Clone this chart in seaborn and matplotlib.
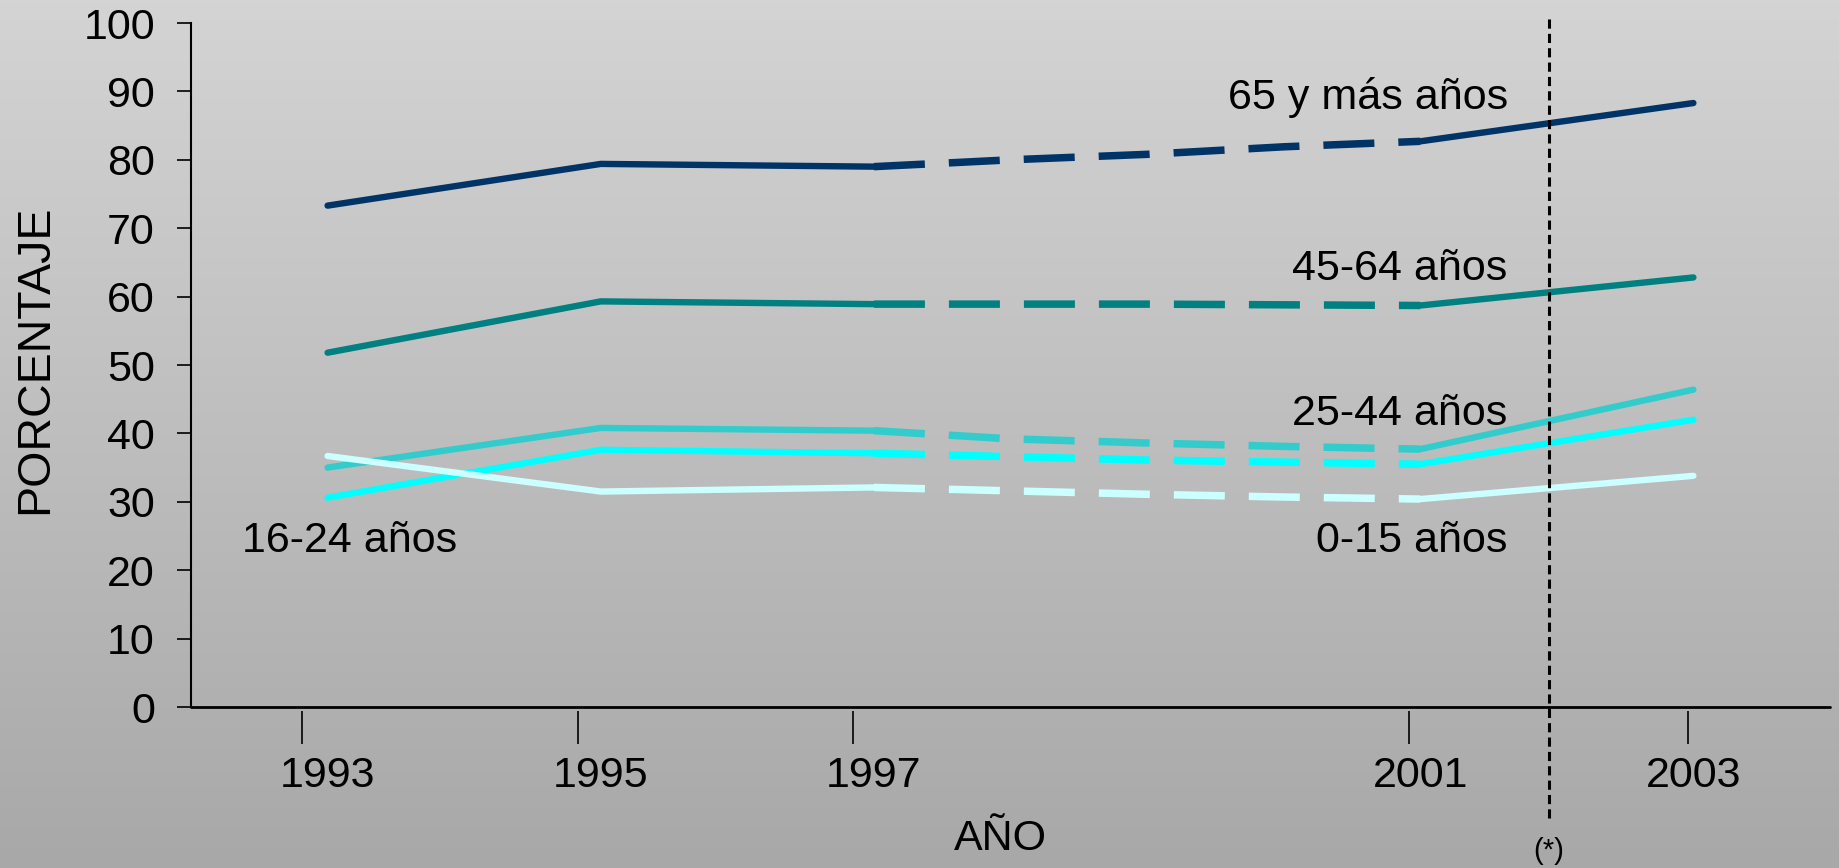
import matplotlib
matplotlib.use('Agg')
import matplotlib.pyplot as plt
from matplotlib.colors import LinearSegmentedColormap
import numpy as np
import pandas as pd
import seaborn as sns

sns.set_style('white')
plt.rcParams['font.family'] = ['Liberation Sans', 'DejaVu Sans']
plt.rcParams['text.color'] = 'black'
plt.rcParams['axes.labelcolor'] = 'black'
plt.rcParams['xtick.color'] = 'black'
plt.rcParams['ytick.color'] = 'black'

# datos
years = [1993, 1995, 1997, 2001, 2003]
dash_years = [1997, 1998, 1999, 2000, 2001]
groups = ['65 y más años', '45-64 años', '25-44 años', '16-24 años', '0-15 años']
colors = ['#003366', '#008080', '#33CCCC', '#00FFFF', '#CCFFFF']

v65 = [73.3, 79.4, 79.0, 82.7, 88.3]
v45 = [51.8, 59.3, 58.9, 58.7, 62.8]
v25 = [35.0, 40.8, 40.4, 37.7, 46.4]
v16 = [30.6, 37.6, 37.1, 35.5, 42.0]
v00 = [36.7, 31.5, 32.1, 30.4, 33.8]

d65 = [79.0, 80.0, 80.8, 81.9, 82.7]
d45 = [58.9, 58.9, 58.9, 58.8, 58.7]
d25 = [40.4, 39.2, 38.6, 38.1, 37.7]
d16 = [37.1, 36.6, 36.1, 35.8, 35.5]
d00 = [32.1, 31.6, 31.1, 30.7, 30.4]

values = [v65, v45, v25, v16, v00]
dashed = [d65, d45, d25, d16, d00]

# posicion de las etiquetas de cada serie (x, y, alineacion)
label_pos = [(2001.64, 87.4, 'right'), (2001.64, 62.4, 'right'), (2001.64, 41.3, 'right'),
             (1992.37, 22.6, 'left'), (2001.64, 22.6, 'right')]
tick_marks = [1992.81, 1994.83, 1996.85, 2000.92, 2002.96]
cut_year = 2001.94

rows = []
for g, vals, dvals in zip(groups, values, dashed):
    for y, v in zip(years[:3], vals[:3]):
        rows.append((g, 'a', y, v))
    for y, v in zip(dash_years, dvals):
        rows.append((g, 'd', y, v))
    for y, v in zip(years[3:], vals[3:]):
        rows.append((g, 'b', y, v))
df = pd.DataFrame(rows, columns=['grupo', 'tramo', 'anio', 'pct'])

fig = plt.figure(figsize=(18.39, 8.68), dpi=100)

# fondo degradado gris
bg = fig.add_axes([0, 0, 1, 1], zorder=-10)
grad = np.linspace(0, 1, 256).reshape(-1, 1)
bg.imshow(grad, cmap=LinearSegmentedColormap.from_list('g', ['#D4D4D4', '#A8A8A8']),
          aspect='auto', extent=[0, 1, 0, 1])
bg.axis('off')

ax = fig.add_axes([0.10386, 0.18548, 0.89124, 0.78802])
ax.patch.set_alpha(0)

for g, c in zip(groups, colors):
    sub = df[df.grupo == g]
    for tramo in ['a', 'b']:
        s = sub[sub.tramo == tramo]
        sns.lineplot(x=s.anio, y=s.pct, ax=ax, color=c, lw=4.6, sort=False,
                     solid_capstyle='round', estimator=None)
    s = sub[sub.tramo == 'd']
    sns.lineplot(x=s.anio, y=s.pct, ax=ax, color=c, lw=5.4, sort=False,
                 linestyle=(0, (6.8, 3.2)), dash_capstyle='butt', estimator=None)

for g, (x, y, ha) in zip(groups, label_pos):
    ax.text(x, y, g, ha=ha, va='baseline', fontsize=31)

ax.set_xlim(1992, 2004)
ax.set_ylim(0, 100)
ax.set_yticks(range(0, 101, 10))
ax.set_xticks(years)
ax.set_xticks(tick_marks, minor=True)

ax.tick_params(axis='y', left=True, length=10, width=1.2, pad=16, labelsize=31,
               direction='out')
ax.tick_params(axis='x', which='major', bottom=True, length=0, pad=32, labelsize=31)
ax.tick_params(axis='x', which='minor', bottom=True, length=23.8, width=1.2,
               direction='out')

for side in ['top', 'right']:
    ax.spines[side].set_visible(False)
ax.spines['left'].set_linewidth(1.5)
ax.spines['left'].set_color('black')
ax.spines['bottom'].set_position(('outward', 3))
ax.spines['bottom'].set_visible(False)
ax.axhline(0, color='black', lw=2.0, clip_on=False)

ax.axvline(cut_year, ymin=-0.162, ymax=1.009, color='black', lw=2.2,
           linestyle=(0, (3, 1.7)), clip_on=False)
ax.text(cut_year, -0.21, '(*)', transform=ax.get_xaxis_transform(),
        ha='center', va='center', fontsize=21)

ax.set_xlabel('AÑO', fontsize=31)
ax.set_ylabel('PORCENTAJE', fontsize=33.5)
ax.xaxis.set_label_coords(0.494, -0.164)
ax.yaxis.set_label_coords(-0.0815, 0.508)

fig.savefig('out.png', dpi=100)
plt.close(fig)
